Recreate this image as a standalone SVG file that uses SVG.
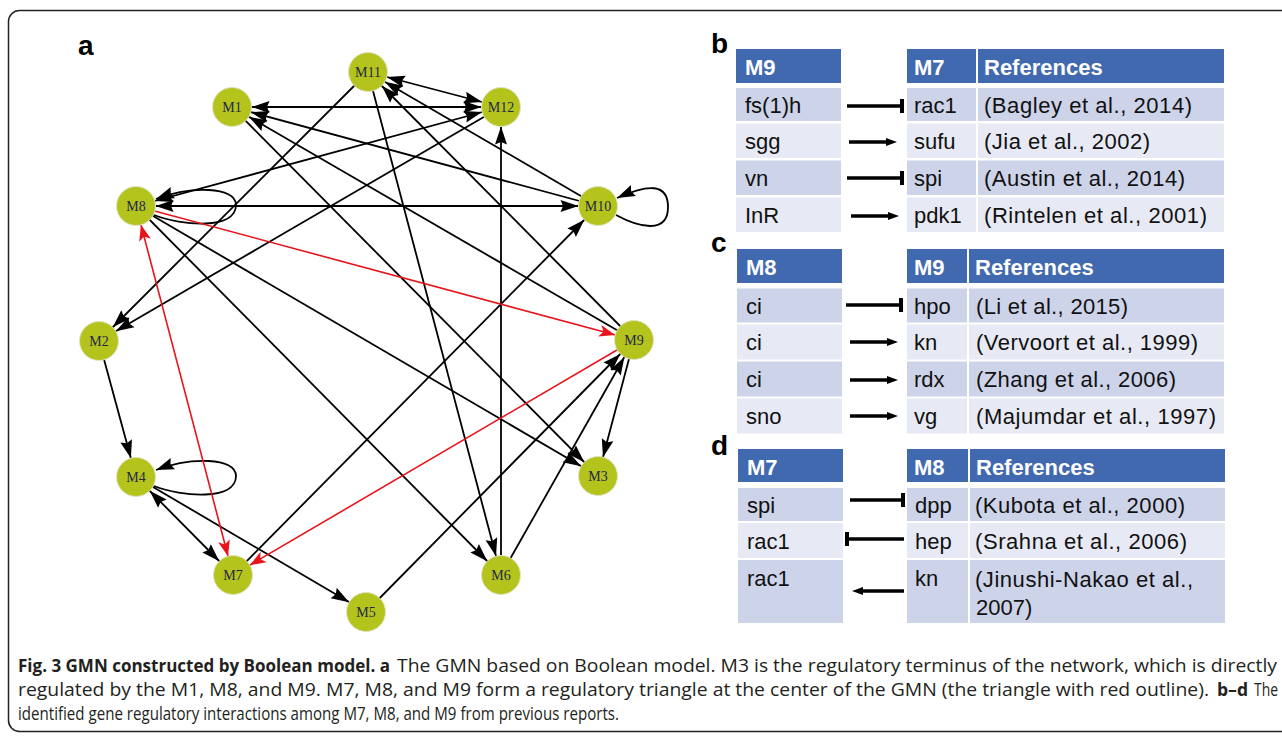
<svg xmlns="http://www.w3.org/2000/svg" width="1282" height="738" viewBox="0 0 1282 738">
  <style>
    .edge { stroke: #000; stroke-width: 1.8; fill: none; }
    .red { stroke: #e8141b; stroke-width: 1.6; fill: none; }
    .node circle { fill: #b5c41c; stroke: #dfe3c4; stroke-width: 1; }
    .node text { font-family: "Liberation Serif", serif; font-size: 14px; fill: #23284a; text-anchor: middle; }
    .lbl { font-family: "Liberation Sans", Arial, sans-serif; font-weight: bold; font-size: 28px; fill: #000; }
    .hd { fill: #4169b0; }
    .r1 { fill: #cdd3e8; }
    .r2 { fill: #e7eaf4; }
    .ht { font-family: "Liberation Sans", Arial, sans-serif; font-weight: bold; font-size: 22px; fill: #fff; }
    .bt { font-family: "Liberation Sans", Arial, sans-serif; font-size: 22px; fill: #111; }
    .tl { stroke: #000; stroke-width: 3.5; }
    .cap { font-family: "Open Sans", "Liberation Sans", sans-serif; font-size: 17.5px; fill: #231f20; }
    .capb { font-weight: bold; }
  </style>
  <defs>
    <marker id="ah" viewBox="0 0 18 12" markerWidth="18" markerHeight="12" refX="37.5" refY="6" orient="auto-start-reverse" markerUnits="userSpaceOnUse" overflow="visible">
      <path d="M0,0 L18,6 L0,12 L2.5,6 z" fill="#000"/>
    </marker>
    <marker id="ar" viewBox="0 0 16 12" markerWidth="16" markerHeight="12" refX="35.5" refY="6" orient="auto-start-reverse" markerUnits="userSpaceOnUse" overflow="visible">
      <path d="M0,0 L16,6 L0,12 L4,6 z" fill="#e8141b"/>
    </marker>
    <marker id="al" viewBox="0 0 18 12" markerWidth="18" markerHeight="12" refX="18" refY="6" orient="auto" markerUnits="userSpaceOnUse" overflow="visible">
      <path d="M0,0 L18,6 L0,12 L2.5,6 z" fill="#000"/>
    </marker>
  </defs>

  <rect width="1282" height="738" fill="#fff"/>
  <!-- figure frame -->
  <rect x="8.5" y="10.5" width="1290" height="721" rx="11" fill="none" stroke="#222" stroke-width="1.5"/>

  <text class="lbl" x="78" y="55">a</text>

  <!-- network connectors -->
  <g id="connectors">
    <line class="edge" x1="232" y1="107" x2="501" y2="107" marker-start="url(#ah)" marker-end="url(#ah)"/>
    <line class="edge" x1="368" y1="72" x2="501" y2="107" marker-start="url(#ah)" marker-end="url(#ah)"/>
    <line class="edge" x1="136" y1="206" x2="501" y2="107" marker-start="url(#ah)" marker-end="url(#ah)"/>
    <line class="edge" x1="136" y1="206" x2="598" y2="206" marker-start="url(#ah)" marker-end="url(#ah)"/>
    <line class="edge" x1="136" y1="477" x2="233" y2="575" marker-start="url(#ah)" marker-end="url(#ah)"/>
    <line class="edge" x1="501" y1="107" x2="99" y2="341" marker-end="url(#ah)"/>
    <line class="edge" x1="368" y1="72" x2="99" y2="341" marker-end="url(#ah)"/>
    <line class="edge" x1="99" y1="341" x2="136" y2="477" marker-end="url(#ah)"/>
    <line class="edge" x1="136" y1="477" x2="366" y2="612" marker-end="url(#ah)"/>
    <line class="edge" x1="366" y1="612" x2="634" y2="340" marker-end="url(#ah)"/>
    <line class="edge" x1="501" y1="575" x2="634" y2="340" marker-end="url(#ah)"/>
    <line class="edge" x1="233" y1="575" x2="598" y2="206" marker-end="url(#ah)"/>
    <line class="edge" x1="501" y1="575" x2="501" y2="107" marker-end="url(#ah)"/>
    <line class="edge" x1="634" y1="340" x2="598" y2="476" marker-end="url(#ah)"/>
    <line class="edge" x1="232" y1="107" x2="598" y2="476" marker-end="url(#ah)"/>
    <line class="edge" x1="136" y1="206" x2="598" y2="476" marker-end="url(#ah)"/>
    <line class="edge" x1="136" y1="206" x2="501" y2="575" marker-end="url(#ah)"/>
    <line class="edge" x1="368" y1="72" x2="501" y2="575" marker-end="url(#ah)"/>
    <line class="edge" x1="598" y1="206" x2="232" y2="107" marker-end="url(#ah)"/>
    <line class="edge" x1="634" y1="340" x2="232" y2="107" marker-end="url(#ah)"/>
    <line class="edge" x1="598" y1="206" x2="368" y2="72" marker-end="url(#ah)"/>
    <line class="edge" x1="634" y1="340" x2="368" y2="72" marker-end="url(#ah)"/>
    <!-- self loops -->
    <path class="edge" d="M154,215 C182,226 236,230 236,205 C236,186 190,186 156,199" marker-end="url(#al)"/>
    <path class="edge" d="M154,486 C182,497 236,501 236,476 C236,457 190,457 156,470" marker-end="url(#al)"/>
    <path class="edge" d="M616,215 C640,228 668,234 668,207 C668,183 648,184 617,198" marker-end="url(#al)"/>
    <!-- red triangle -->
    <line class="red" x1="136" y1="206" x2="233" y2="575" marker-start="url(#ar)" marker-end="url(#ar)"/>
    <line class="red" x1="136" y1="206" x2="634" y2="340" marker-end="url(#ar)"/>
    <line class="red" x1="634" y1="340" x2="233" y2="575" marker-end="url(#ar)"/>
  </g>

  <!-- network nodes -->
  <g id="M11" class="node"><circle cx="368" cy="72" r="19.5"/><text x="368" y="77">M11</text></g>
  <g id="M1" class="node"><circle cx="232" cy="107" r="19.5"/><text x="232" y="112">M1</text></g>
  <g id="M12" class="node"><circle cx="501" cy="107" r="19.5"/><text x="501" y="112">M12</text></g>
  <g id="M8" class="node"><circle cx="136" cy="206" r="19.5"/><text x="136" y="211">M8</text></g>
  <g id="M10" class="node"><circle cx="598" cy="206" r="19.5"/><text x="598" y="211">M10</text></g>
  <g id="M2" class="node"><circle cx="99" cy="341" r="19.5"/><text x="99" y="346">M2</text></g>
  <g id="M9" class="node"><circle cx="634" cy="340" r="19.5"/><text x="634" y="345">M9</text></g>
  <g id="M4" class="node"><circle cx="136" cy="477" r="19.5"/><text x="136" y="482">M4</text></g>
  <g id="M3" class="node"><circle cx="598" cy="476" r="19.5"/><text x="598" y="481">M3</text></g>
  <g id="M7" class="node"><circle cx="233" cy="575" r="19.5"/><text x="233" y="580">M7</text></g>
  <g id="M6" class="node"><circle cx="501" cy="575" r="19.5"/><text x="501" y="580">M6</text></g>
  <g id="M5" class="node"><circle cx="366" cy="612" r="19.5"/><text x="366" y="617">M5</text></g>

  <!-- panel b: M9 -> M7 -->
  <g id="table-b">
    <text class="lbl" x="711" y="53">b</text>
    <rect class="hd" x="736" y="49" width="105" height="34"/>
    <rect class="hd" x="907" y="49" width="69" height="34"/>
    <rect class="hd" x="978" y="49" width="246" height="34"/>
    <text class="ht" x="745" y="75">M9</text>
    <text class="ht" x="914" y="75">M7</text>
    <text class="ht" x="984" y="75">References</text>
    <rect class="r1" x="736" y="88" width="105" height="33"/>
    <rect class="r1" x="907" y="88" width="69" height="33"/>
    <rect class="r1" x="978" y="88" width="246" height="33"/>
    <rect class="r2" x="736" y="123.5" width="105" height="34.5"/>
    <rect class="r2" x="907" y="123.5" width="69" height="34.5"/>
    <rect class="r2" x="978" y="123.5" width="246" height="34.5"/>
    <rect class="r1" x="736" y="160.5" width="105" height="34.5"/>
    <rect class="r1" x="907" y="160.5" width="69" height="34.5"/>
    <rect class="r1" x="978" y="160.5" width="246" height="34.5"/>
    <rect class="r2" x="736" y="197.5" width="105" height="34.5"/>
    <rect class="r2" x="907" y="197.5" width="69" height="34.5"/>
    <rect class="r2" x="978" y="197.5" width="246" height="34.5"/>
    <text class="bt" x="745" y="113">fs(1)h</text>
    <text class="bt" x="745" y="148.5">sgg</text>
    <text class="bt" x="745" y="185.5">vn</text>
    <text class="bt" x="745" y="222.5">InR</text>
    <text class="bt" x="914" y="113">rac1</text>
    <text class="bt" x="914" y="148.5">sufu</text>
    <text class="bt" x="914" y="185.5">spi</text>
    <text class="bt" x="914" y="222.5">pdk1</text>
    <text class="bt" x="984" y="113" textLength="208" lengthAdjust="spacing">(Bagley et al., 2014)</text>
    <text class="bt" x="984" y="148.5" textLength="166" lengthAdjust="spacing">(Jia et al., 2002)</text>
    <text class="bt" x="984" y="185.5" textLength="201" lengthAdjust="spacing">(Austin et al., 2014)</text>
    <text class="bt" x="984" y="222.5" textLength="223" lengthAdjust="spacing">(Rintelen et al., 2001)</text>
    <line class="tl" x1="847" y1="106" x2="902" y2="106"/><rect x="900" y="99" width="4" height="14" fill="#000"/>
    <line class="tl" x1="849" y1="142" x2="889" y2="142"/><polygon points="886,138 897,142 886,146" fill="#000"/>
    <line class="tl" x1="847" y1="178" x2="902" y2="178"/><rect x="900" y="171" width="4" height="14" fill="#000"/>
    <line class="tl" x1="851" y1="216" x2="891" y2="216"/><polygon points="888,212 899,216 888,220" fill="#000"/>
  </g>

  <!-- panel c: M8 -> M9 -->
  <g id="table-c">
    <text class="lbl" x="711" y="252">c</text>
    <rect class="hd" x="737" y="249" width="105" height="34"/>
    <rect class="hd" x="907" y="249" width="60" height="34"/>
    <rect class="hd" x="969" y="249" width="255" height="34"/>
    <text class="ht" x="746" y="275">M8</text>
    <text class="ht" x="914" y="275">M9</text>
    <text class="ht" x="975" y="275">References</text>
    <rect class="r1" x="737" y="288.5" width="105" height="34"/>
    <rect class="r1" x="907" y="288.5" width="60" height="34"/>
    <rect class="r1" x="969" y="288.5" width="255" height="34"/>
    <rect class="r2" x="737" y="324.5" width="105" height="35"/>
    <rect class="r2" x="907" y="324.5" width="60" height="35"/>
    <rect class="r2" x="969" y="324.5" width="255" height="35"/>
    <rect class="r1" x="737" y="361.5" width="105" height="35"/>
    <rect class="r1" x="907" y="361.5" width="60" height="35"/>
    <rect class="r1" x="969" y="361.5" width="255" height="35"/>
    <rect class="r2" x="737" y="398.5" width="105" height="35"/>
    <rect class="r2" x="907" y="398.5" width="60" height="35"/>
    <rect class="r2" x="969" y="398.5" width="255" height="35"/>
    <text class="bt" x="746" y="313.5">ci</text>
    <text class="bt" x="746" y="349.5">ci</text>
    <text class="bt" x="746" y="386.5">ci</text>
    <text class="bt" x="746" y="423.5">sno</text>
    <text class="bt" x="914" y="313.5">hpo</text>
    <text class="bt" x="914" y="349.5">kn</text>
    <text class="bt" x="914" y="386.5">rdx</text>
    <text class="bt" x="914" y="423.5">vg</text>
    <text class="bt" x="976" y="313.5" textLength="152" lengthAdjust="spacing">(Li et al., 2015)</text>
    <text class="bt" x="976" y="349.5" textLength="222" lengthAdjust="spacing">(Vervoort et al., 1999)</text>
    <text class="bt" x="976" y="386.5" textLength="200" lengthAdjust="spacing">(Zhang et al., 2006)</text>
    <text class="bt" x="976" y="423.5" textLength="240" lengthAdjust="spacing">(Majumdar et al., 1997)</text>
    <line class="tl" x1="846" y1="305" x2="901" y2="305"/><rect x="899" y="298" width="4" height="14" fill="#000"/>
    <line class="tl" x1="850" y1="342" x2="890" y2="342"/><polygon points="887,338 898,342 887,346" fill="#000"/>
    <line class="tl" x1="850" y1="380" x2="890" y2="380"/><polygon points="887,376 898,380 887,384" fill="#000"/>
    <line class="tl" x1="850" y1="416" x2="890" y2="416"/><polygon points="887,412 898,416 887,420" fill="#000"/>
  </g>

  <!-- panel d: M7 - M8 -->
  <g id="table-d">
    <text class="lbl" x="711" y="455">d</text>
    <rect class="hd" x="738" y="449" width="105" height="33"/>
    <rect class="hd" x="907" y="449" width="61" height="33"/>
    <rect class="hd" x="970" y="449" width="255" height="33"/>
    <text class="ht" x="747" y="475">M7</text>
    <text class="ht" x="914" y="475">M8</text>
    <text class="ht" x="976" y="475">References</text>
    <rect class="r1" x="738" y="488" width="105" height="33"/>
    <rect class="r1" x="907" y="488" width="61" height="33"/>
    <rect class="r1" x="970" y="488" width="255" height="33"/>
    <rect class="r2" x="738" y="523" width="105" height="35"/>
    <rect class="r2" x="907" y="523" width="61" height="35"/>
    <rect class="r2" x="970" y="523" width="255" height="35"/>
    <rect class="r1" x="738" y="560" width="105" height="63"/>
    <rect class="r1" x="907" y="560" width="61" height="63"/>
    <rect class="r1" x="970" y="560" width="255" height="63"/>
    <text class="bt" x="747" y="513">spi</text>
    <text class="bt" x="747" y="549">rac1</text>
    <text class="bt" x="747" y="586">rac1</text>
    <text class="bt" x="915" y="513">dpp</text>
    <text class="bt" x="915" y="549">hep</text>
    <text class="bt" x="915" y="586">kn</text>
    <text class="bt" x="975" y="513" textLength="210" lengthAdjust="spacing">(Kubota et al., 2000)</text>
    <text class="bt" x="975" y="549" textLength="212" lengthAdjust="spacing">(Srahna et al., 2006)</text>
    <text class="bt" x="975" y="587" textLength="218" lengthAdjust="spacing">(Jinushi-Nakao et al.,</text>
    <text class="bt" x="976" y="615">2007)</text>
    <line class="tl" x1="850" y1="500" x2="903" y2="500"/><rect x="901" y="493" width="4" height="14" fill="#000"/>
    <line class="tl" x1="848" y1="539" x2="904" y2="539"/><rect x="845" y="532" width="4" height="14" fill="#000"/>
    <line class="tl" x1="860" y1="591" x2="904" y2="591"/><polygon points="863,587 852,591 863,595" fill="#000"/>
  </g>

  <!-- caption -->
  <g id="caption">
    <text class="cap capb" x="18" y="672" textLength="372" lengthAdjust="spacingAndGlyphs">Fig. 3 GMN constructed by Boolean model. a</text>
    <text class="cap" x="397" y="672" textLength="880" lengthAdjust="spacingAndGlyphs">The GMN based on Boolean model. M3 is the regulatory terminus of the network, which is directly</text>
    <text class="cap" x="18" y="696" textLength="1191" lengthAdjust="spacingAndGlyphs">regulated by the M1, M8, and M9. M7, M8, and M9 form a regulatory triangle at the center of the GMN (the triangle with red outline).</text>
    <text class="cap capb" x="1217" y="696" textLength="31" lengthAdjust="spacingAndGlyphs">b–d</text>
    <text class="cap" x="1254" y="696" textLength="24" lengthAdjust="spacingAndGlyphs">The</text>
    <text class="cap" x="18" y="720" textLength="601" lengthAdjust="spacingAndGlyphs">identified gene regulatory interactions among M7, M8, and M9 from previous reports.</text>
  </g>
</svg>
